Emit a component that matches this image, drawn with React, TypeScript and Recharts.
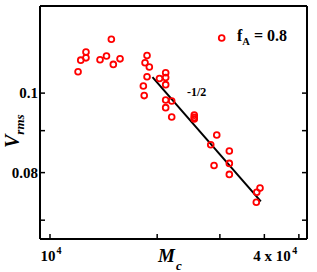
import { ComposedChart, Scatter, XAxis, YAxis } from "recharts";

// M_c values and the matching V_rms values
const mcValues = [
  11990, 12200, 12620, 12620, 13820, 14410, 14870, 15060, 15730,
  18730, 18490, 19010, 18730, 18290, 18390,
  21130, 21130, 20300, 21130, 21130, 21970, 21130, 21970,
  25420, 25420, 25420,
  29400, 28280, 31890, 28890, 31890, 31890,
  38890, 38070, 37970,
];
const vrmsValues = [
  0.1062, 0.1097, 0.1122, 0.1104, 0.1098, 0.111, 0.1163, 0.1084, 0.1101,
  0.1111, 0.1089, 0.1076, 0.1047, 0.102, 0.0993,
  0.1059, 0.1045, 0.1042, 0.1024, 0.0981, 0.0978, 0.096, 0.0935,
  0.094, 0.0934, 0.093,
  0.0889, 0.0865, 0.085, 0.0816, 0.0821, 0.0796,
  0.0766, 0.0757, 0.0736,
];

// slope -1/2 guide line
const fitMc = [19400, 39100];
const fitVrms = [0.1046, 0.0738];

const xTicks = [10000, 20000, 30000, 40000, 50000];
const yTicks = [0.07, 0.08, 0.09, 0.1];
const yTickLabels = ["", "0.08", "", "0.1"];

const xDomain = [9374, 52700];
const yDomain = [0.0664, 0.1277];

const points = mcValues.map((m, i) => ({ m, v: vrmsValues[i] }));
const fitLine = fitMc.map((m, i) => ({ m, v: fitVrms[i] }));

const FONT = '"Liberation Serif", "Times New Roman", serif';
const RED = "#ff0000";
const TICK = 5;

function RingDot({ cx, cy }: any) {
  if (cx == null || cy == null) return <g />;
  return <circle cx={cx} cy={cy} r={2.9} fill="none" stroke={RED} strokeWidth={1.8} />;
}

function LeftTick({ x, y, payload }: any) {
  const label = yTickLabels[yTicks.indexOf(payload.value)];
  return (
    <g>
      <line x1={x} x2={x + TICK} y1={y} y2={y} stroke="#000" strokeWidth={1.5} />
      {label ? (
        <text x={x - 2} y={y} dy="0.35em" textAnchor="end" fontFamily={FONT} fontWeight="bold" fontSize={15} fill="#000">
          {label}
        </text>
      ) : null}
    </g>
  );
}

function RightTick({ x, y }: any) {
  return <line x1={x - TICK} x2={x} y1={y} y2={y} stroke="#000" strokeWidth={1.5} />;
}

function TopTick({ x, y }: any) {
  return <line x1={x} x2={x} y1={y} y2={y + TICK} stroke="#000" strokeWidth={1.5} />;
}

function BottomTick({ x, y, payload }: any) {
  const v = payload.value;
  return (
    <g>
      <line x1={x} x2={x} y1={y - TICK} y2={y} stroke="#000" strokeWidth={1.5} />
      {v === 10000 && (
        <text x={x + 1} y={y + 22} textAnchor="middle" fontFamily={FONT} fontWeight="bold" fontSize={15} fill="#000">
          10<tspan dx={1} dy={-7} fontSize={10}>4</tspan>
        </text>
      )}
      {v === 40000 && (
        <text x={x - 11} y={y + 22} textAnchor="start" fontFamily={FONT} fontWeight="bold" fontSize={15} fill="#000">
          4 x 10<tspan dx={1.5} dy={-7} fontSize={10}>4</tspan>
        </text>
      )}
    </g>
  );
}

export default function App() {
  return (
    <div style={{ position: "absolute", left: 0, top: 0, width: 317, height: 272, background: "#fff" }}>
      <ComposedChart width={317} height={272} margin={{ top: 5, right: 9, bottom: 0, left: 0 }}>
        <XAxis
          xAxisId="bottom"
          dataKey="m"
          type="number"
          scale="log"
          domain={xDomain}
          allowDataOverflow
          ticks={xTicks}
          height={33}
          tickSize={0}
          tickMargin={0}
          tickLine={false}
          axisLine={{ stroke: "#000", strokeWidth: 2 }}
          tick={<BottomTick />}
          interval={0}
        />
        <XAxis
          xAxisId="top"
          orientation="top"
          type="number"
          scale="log"
          domain={xDomain}
          allowDataOverflow
          ticks={xTicks}
          height={1}
          tickSize={0}
          tickMargin={0}
          tickLine={false}
          axisLine={{ stroke: "#000", strokeWidth: 2 }}
          tick={<TopTick />}
          interval={0}
        />
        <YAxis
          yAxisId="left"
          dataKey="v"
          type="number"
          scale="log"
          domain={yDomain}
          allowDataOverflow
          ticks={yTicks}
          width={40}
          tickSize={0}
          tickMargin={0}
          tickLine={false}
          axisLine={{ stroke: "#000", strokeWidth: 2 }}
          tick={<LeftTick />}
          interval={0}
        />
        <YAxis
          yAxisId="right"
          orientation="right"
          type="number"
          scale="log"
          domain={yDomain}
          allowDataOverflow
          ticks={yTicks}
          width={1}
          tickSize={0}
          tickMargin={0}
          tickLine={false}
          axisLine={{ stroke: "#000", strokeWidth: 2 }}
          tick={<RightTick />}
          interval={0}
        />
        <Scatter
          xAxisId="bottom"
          yAxisId="left"
          data={fitLine}
          line={{ stroke: "#000", strokeWidth: 2 }}
          shape={() => <g />}
          isAnimationActive={false}
        />
        <Scatter
          xAxisId="bottom"
          yAxisId="left"
          data={points}
          shape={<RingDot />}
          isAnimationActive={false}
        />
      </ComposedChart>
      <svg
        width={317}
        height={272}
        style={{ position: "absolute", left: 0, top: 0, pointerEvents: "none" }}
      >
        <text transform="rotate(-90)" x={-148} y={19} fontFamily={FONT} fontWeight="bold" fontStyle="italic" fontSize={20} fill="#000">
          V<tspan dy={5} fontSize={13}>rms</tspan>
        </text>
        <text x={158} y={262} fontFamily={FONT} fontWeight="bold" fontStyle="italic" fontSize={19} fill="#000">
          M<tspan dx={1} dy={8} fontSize={13}>c</tspan>
        </text>
        <circle cx={221.7} cy={38} r={2.9} fill="none" stroke={RED} strokeWidth={1.8} />
        <text x={237} y={41} fontFamily={FONT} fontWeight="bold" fontSize={16} fill="#000">
          f<tspan dy={4} fontSize={10.5}>A</tspan>
          <tspan dy={-4}> = 0.8</tspan>
        </text>
        <text x={187} y={96} fontFamily={FONT} fontWeight="bold" fontSize={12} fill="#000">
          -1/2
        </text>
      </svg>
    </div>
  );
}
